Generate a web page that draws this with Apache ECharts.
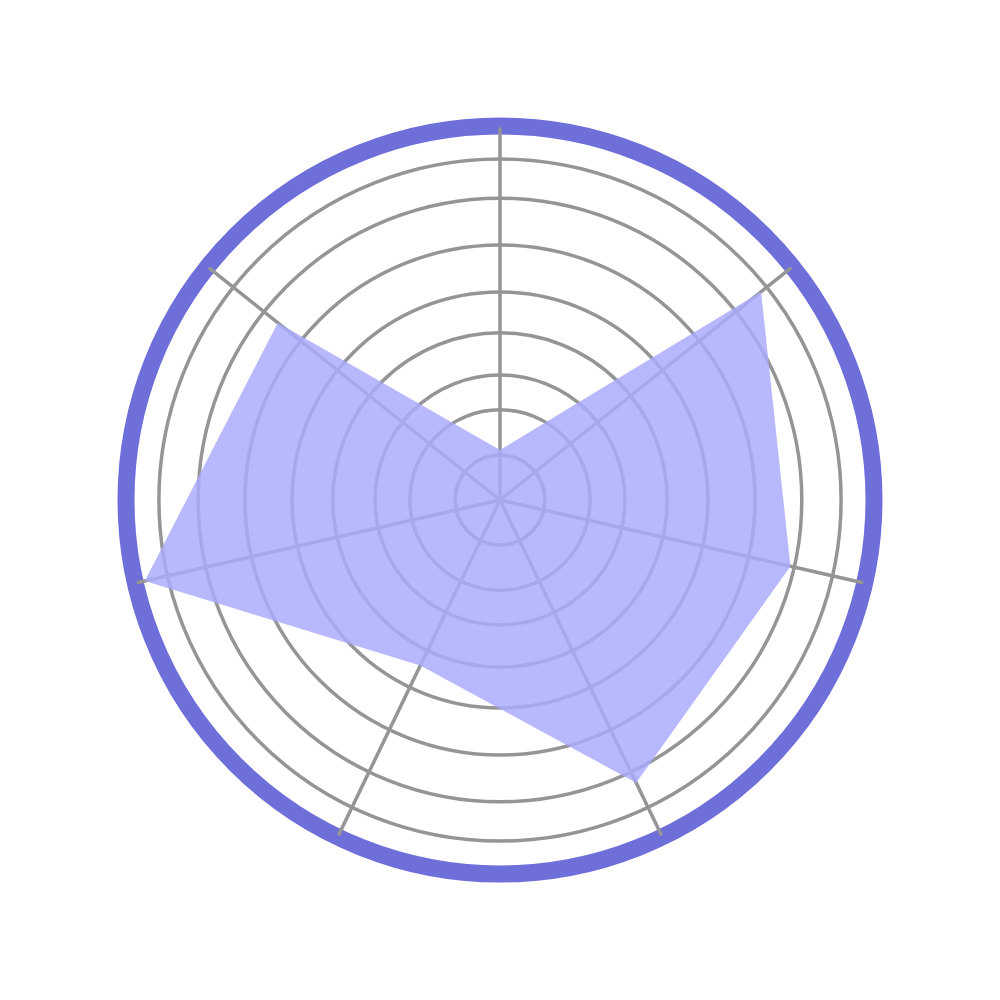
<!DOCTYPE html>
<html>
<head>
<meta charset="utf-8">
<script src="https://cdn.jsdelivr.net/npm/echarts@6/dist/echarts.min.js"></script>
<style>
html,body{margin:0;padding:0;background:#fff;}
#chart{width:1000px;height:1000px;}
</style>
</head>
<body>
<div id="chart"></div>
<script>
// Indicators listed clockwise from the top (as seen in the picture)
const indicatorNames = ['A', 'B', 'C', 'D', 'E', 'F', 'G'];
const seriesValues = [13.5, 90.0, 80.3, 84.6, 49.5, 98.2, 76.6];
const radialTicks = [12.0, 24.1, 33.4, 44.7, 55.6, 68.2, 80.7, 91.2];
const axisMax = 100;

// ECharts radar lays indicators out counter-clockwise: reverse (keeping the first on top)
const ccwOrder = [0].concat(indicatorNames.map((_, i) => i).slice(1).reverse());
const radarIndicators = ccwOrder.map(i => ({ name: indicatorNames[i], max: axisMax }));
const radarValues = ccwOrder.map(i => seriesValues[i]);

const chart = echarts.init(document.getElementById('chart'), null, { renderer: 'canvas' });
chart.setOption({
  backgroundColor: '#ffffff',
  animation: false,
  polar: { center: ['50%', '50%'], radius: 374 },
  angleAxis: {
    type: 'value', min: 0, max: 360, startAngle: 90,
    axisLine: { show: true, lineStyle: { color: '#6f6fda', width: 17 } },
    axisTick: { show: false }, axisLabel: { show: false },
    splitLine: { show: false }
  },
  radiusAxis: {
    type: 'value', min: 0, max: axisMax,
    axisLine: { show: false },
    axisTick: { show: false, customValues: radialTicks },
    axisLabel: { show: false, customValues: radialTicks },
    splitLine: { show: true, lineStyle: { color: '#959595', width: 3.5 } }
  },
  radar: {
    center: ['50%', '50%'], radius: 371, shape: 'circle', startAngle: 90,
    indicator: radarIndicators,
    axisName: { show: false },
    splitLine: { show: false },
    splitArea: { show: false },
    axisLine: { show: true, lineStyle: { color: '#959595', width: 3.5 } },
    axisTick: { show: false }, axisLabel: { show: false }
  },
  series: [{
    type: 'radar',
    symbol: 'none',
    lineStyle: { width: 0, opacity: 0 },
    areaStyle: { color: '#aaaaff', opacity: 0.84 },
    data: [{ value: radarValues }]
  }]
});
</script>
</body>
</html>
